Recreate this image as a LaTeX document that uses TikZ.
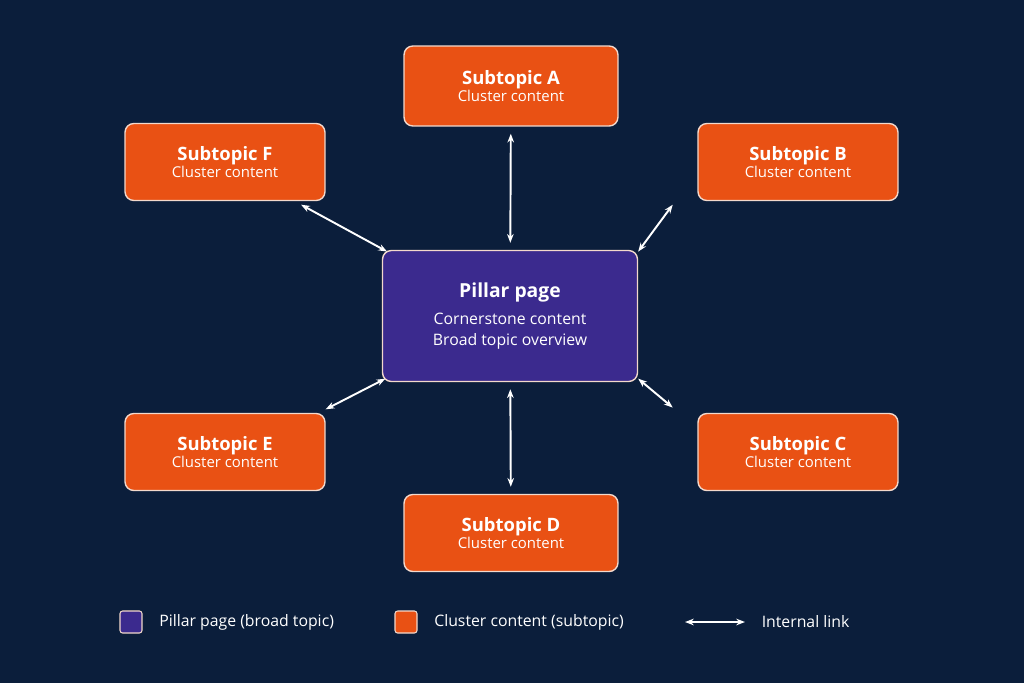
\documentclass[tikz,border=0pt]{standalone}
\usepackage{fontspec}
\setmainfont{Open Sans}
\usetikzlibrary{arrows.meta,positioning,backgrounds}
\definecolor{navy}{HTML}{0B1E3B}
\definecolor{topic}{HTML}{E95114}
\definecolor{pillar}{HTML}{3B2A8E}
\definecolor{edge}{HTML}{F3D9CC}
\newcommand{\titre}{\fontsize{10.5}{13}\selectfont\bfseries}
\newcommand{\grand}{\fontsize{11}{13}\selectfont\bfseries}
\newcommand{\moyen}{\fontsize{9}{11}\selectfont}

\begin{document}
\begin{tikzpicture}[x=0.02cm,y=-0.02cm]
  %
% Styles
%
\tikzset{every node/.style={font=\fontsize{8.5}{10}\selectfont, text=white}};%
\tikzset{sub/.style={fill=topic, draw=edge, line width=0.8pt, rounded corners=5pt,
    minimum width=4cm, minimum height=1.54cm, align=center}};%
\tikzset{lien/.style={{Stealth[length=5pt]}-{Stealth[length=5pt]}, white, line width=1.1pt}};%

\fill[navy] (0,0) rectangle (1024,683);%
\useasboundingbox (0,0) rectangle (1024,683);%

%
% Nodes
%
\node[sub, fill=pillar, minimum width=5.1cm, minimum height=2.62cm] (pil) at (510,316)
  {{\grand Pillar page}\\[5pt]
   {\moyen Cornerstone content}\\[2pt]
   {\moyen Broad topic overview}};%
\node[sub, minimum width=4.28cm, minimum height=1.6cm] (a) at (511,86)
  {{\titre Subtopic A}\\Cluster content};%
\node[sub] (b) at (798,162) {{\titre Subtopic B}\\Cluster content};%
\node[sub] (c) at (798,452) {{\titre Subtopic C}\\Cluster content};%
\node[sub, minimum width=4.28cm] (d) at (511,533) {{\titre Subtopic D}\\Cluster content};%
\node[sub] (e) at (225,452) {{\titre Subtopic E}\\Cluster content};%
\node[sub] (f) at (225,162) {{\titre Subtopic F}\\Cluster content};%

%
% Links
%
\draw[lien, shorten <=4pt, shorten >=4pt] (a) -- (pil);%
\draw[lien] ([xshift=-14pt,yshift=-2pt]b.south west) -- ([yshift=-1pt]pil.north east);%
\draw[lien] ([xshift=-14pt,yshift=3pt]c.north west) -- ([yshift=2pt]pil.south east);%
\draw[lien, shorten <=4pt, shorten >=4pt] (pil) -- (d);%
\draw[lien] ([yshift=2pt]e.north east) -- ([xshift=2pt,yshift=2pt]pil.south west);%
\draw[lien] ([xshift=-14pt,yshift=-2pt]f.south east) -- ([xshift=3pt,yshift=-1pt]pil.north west);%

%
% Legend
%
\node[fill=pillar, draw=edge, line width=0.6pt, rounded corners=1.5pt, minimum size=0.44cm,
  inner sep=0pt] (lp) at (131,622) {};%
\node[right=6pt of lp, font=\moyen] (lpt) {Pillar page (broad topic)};%
\node[fill=topic, draw=edge, line width=0.6pt, rounded corners=1.5pt, minimum size=0.44cm,
  inner sep=0pt] (lc) at (406,622) {};%
\node[right=6pt of lc, font=\moyen] (lct) {Cluster content (subtopic)};%
\coordinate (l1) at (685,622);%
\coordinate (l2) at (745,622);%
\draw[lien] (l1) -- (l2);%
\node[right=6pt of l2, font=\moyen] (llt) {Internal link};%
\end{tikzpicture}
\end{document}
